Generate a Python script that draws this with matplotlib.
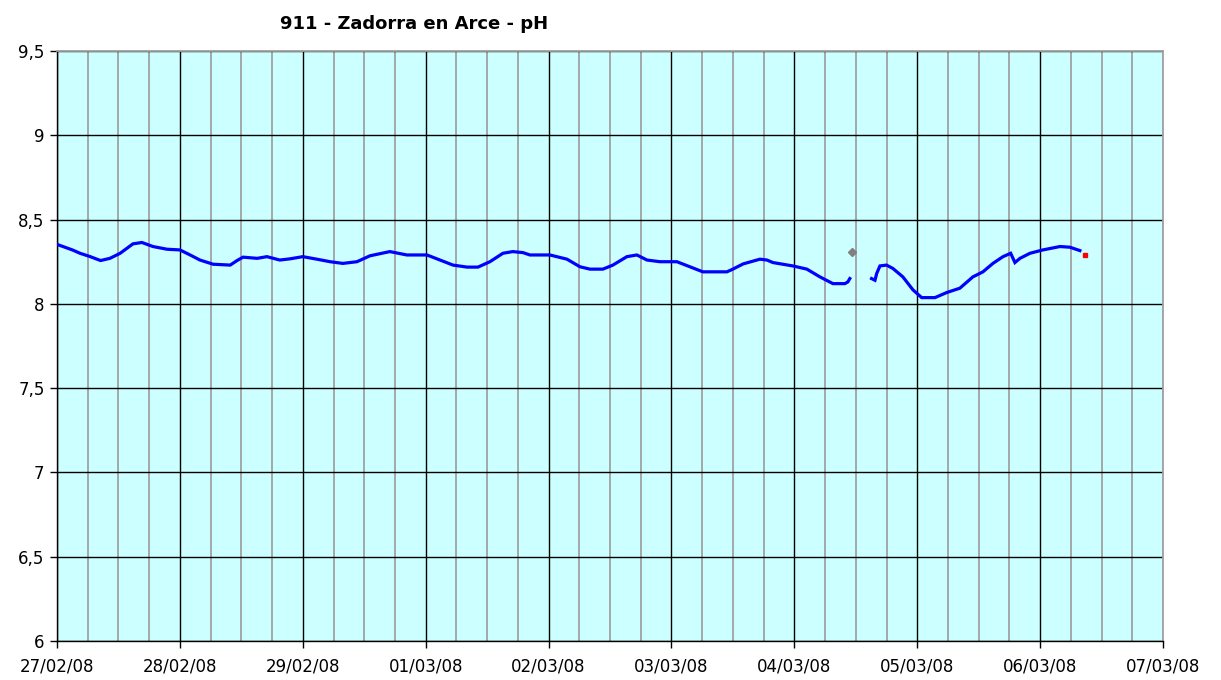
import matplotlib
matplotlib.use("Agg")
import matplotlib.pyplot as plt
import matplotlib.dates as mdates
import pandas as pd

title = "911 - Zadorra en Arce - pH"

seg1_times = ["2008-02-27 00:15", "2008-02-27 03:00", "2008-02-27 04:30", "2008-02-27 06:30",
              "2008-02-27 08:30", "2008-02-27 10:20", "2008-02-27 12:20", "2008-02-27 14:50",
              "2008-02-27 16:35", "2008-02-27 18:45", "2008-02-27 21:30", "2008-02-28 00:00",
              "2008-02-28 02:00", "2008-02-28 03:55", "2008-02-28 06:30", "2008-02-28 09:50",
              "2008-02-28 11:10", "2008-02-28 12:20", "2008-02-28 15:05", "2008-02-28 17:00",
              "2008-02-28 19:30", "2008-02-28 21:30", "2008-02-29 00:00", "2008-02-29 02:45",
              "2008-02-29 05:20", "2008-02-29 07:50", "2008-02-29 10:35", "2008-02-29 13:07",
              "2008-02-29 17:00", "2008-02-29 20:20", "2008-03-01 00:15", "2008-03-01 02:48",
              "2008-03-01 05:20", "2008-03-01 08:05", "2008-03-01 10:13", "2008-03-01 12:33",
              "2008-03-01 15:05", "2008-03-01 17:00", "2008-03-01 19:00", "2008-03-01 20:22",
              "2008-03-02 00:16", "2008-03-02 03:36", "2008-03-02 06:08", "2008-03-02 08:05",
              "2008-03-02 10:37", "2008-03-02 12:34", "2008-03-02 15:18", "2008-03-02 17:15",
              "2008-03-02 19:13", "2008-03-02 21:45", "2008-03-03 01:04", "2008-03-03 03:36",
              "2008-03-03 06:08", "2008-03-03 10:50", "2008-03-03 12:00", "2008-03-03 14:00",
              "2008-03-03 17:17", "2008-03-03 18:39", "2008-03-03 19:49", "2008-03-03 23:42",
              "2008-03-04 02:27", "2008-03-04 05:00", "2008-03-04 07:32", "2008-03-04 09:52",
              "2008-03-04 10:27", "2008-03-04 10:50"]
seg1_ph = [8.35, 8.32, 8.30, 8.28, 8.257, 8.27, 8.30, 8.356, 8.364, 8.34, 8.324, 8.32,
           8.29, 8.26, 8.235, 8.23, 8.257, 8.277, 8.27, 8.28, 8.26, 8.267, 8.28, 8.265,
           8.25, 8.24, 8.25, 8.285, 8.31, 8.29, 8.29, 8.26, 8.23, 8.218, 8.218, 8.25,
           8.30, 8.31, 8.304, 8.29, 8.29, 8.265, 8.22, 8.206, 8.206, 8.23, 8.28, 8.29,
           8.26, 8.25, 8.25, 8.22, 8.19, 8.19, 8.206, 8.237, 8.265, 8.26, 8.245, 8.225,
           8.206, 8.16, 8.12, 8.12, 8.13, 8.15]

seg2_times = ["2008-03-04 15:05", "2008-03-04 15:45", "2008-03-04 16:05", "2008-03-04 16:43",
              "2008-03-04 18:00", "2008-03-04 19:15", "2008-03-04 21:12", "2008-03-04 23:10",
              "2008-03-05 00:52", "2008-03-05 03:28", "2008-03-05 05:45", "2008-03-05 08:20",
              "2008-03-05 10:52", "2008-03-05 12:50", "2008-03-05 14:47", "2008-03-05 16:45",
              "2008-03-05 18:15", "2008-03-05 19:05", "2008-03-05 20:04", "2008-03-05 22:01",
              "2008-03-06 00:33", "2008-03-06 03:52", "2008-03-06 05:49", "2008-03-06 07:46"]
seg2_ph = [8.15, 8.14, 8.18, 8.225, 8.23, 8.21, 8.16, 8.083, 8.037, 8.037, 8.067, 8.093,
           8.16, 8.19, 8.24, 8.28, 8.30, 8.245, 8.27, 8.30, 8.32, 8.34, 8.336, 8.316]

gray_time = ["2008-03-04 11:11"]
gray_ph = [8.31]
red_time = ["2008-03-06 08:45"]
red_ph = [8.29]

y_ticks = [6, 6.5, 7, 7.5, 8, 8.5, 9, 9.5]
y_labels = ["6", "6,5", "7", "7,5", "8", "8,5", "9", "9,5"]
x_start, x_end = "2008-02-27", "2008-03-07"

plt.rcParams['font.family'] = ['DejaVu Sans']
fig = plt.figure(figsize=(12.21, 6.8), dpi=100)
ax = fig.add_axes([57/1221, 39/680, (1163-57)/1221, (641-51)/680])
ax.set_facecolor("#CCFFFF")

t1 = pd.to_datetime(seg1_times)
t2 = pd.to_datetime(seg2_times)
ax.plot(t1, seg1_ph, color="#0000FF", lw=2.3, zorder=5, solid_joinstyle="miter")
ax.plot(t2, seg2_ph, color="#0000FF", lw=2.3, zorder=5, solid_joinstyle="miter")
ax.plot(pd.to_datetime(gray_time), gray_ph, marker="D", color="#808080", ms=4.5, ls="none", zorder=6)
ax.plot(pd.to_datetime(red_time), red_ph, marker="s", color="#FF0000", ms=2.5, ls="none", zorder=6)

ax.set_xlim(pd.Timestamp(x_start), pd.Timestamp(x_end))
ax.set_ylim(6, 9.5)
ax.set_yticks(y_ticks)
ax.set_yticklabels(y_labels)

ax.xaxis.set_major_locator(mdates.DayLocator())
ax.xaxis.set_major_formatter(mdates.DateFormatter("%d/%m/%y"))
ax.xaxis.set_minor_locator(mdates.HourLocator(byhour=[6, 12, 18]))

ax.grid(which="minor", axis="x", color="#A0A0A0", lw=1.3, zorder=1)
ax.grid(which="major", axis="x", color="#000000", lw=1.0, zorder=2)
ax.grid(which="major", axis="y", color="#000000", lw=1.0, zorder=2)
ax.set_axisbelow(True)

for s in ["top", "right"]:
    ax.spines[s].set_color("#A0A0A0")
    ax.spines[s].set_linewidth(1.3)
for s in ["left", "bottom"]:
    ax.spines[s].set_color("#000000")
    ax.spines[s].set_linewidth(1.0)

ax.tick_params(axis="both", which="major", direction="out", length=5, width=1,
               labelsize=12, colors="#000000", pad=4)
ax.tick_params(axis="x", which="minor", length=0)
ax.tick_params(axis="x", which="major", pad=7)

fig.text(0.339, 0.965, title, ha="center", va="center", fontsize=13, fontweight="bold")

fig.savefig("out.png", dpi=100, facecolor="white")
